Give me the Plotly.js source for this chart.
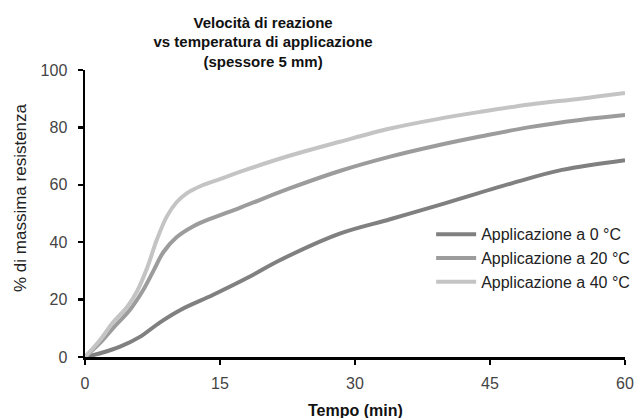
<!DOCTYPE html>
<html>
<head>
<meta charset="utf-8">
<script src="https://cdn.plot.ly/plotly-3.0.1.min.js"></script>
<style>html,body{margin:0;padding:0;background:#fff}#chart{width:637px;height:418px}</style>
</head>
<body>
<div id="chart"></div>
<script>
const time0 = [0, 1.7, 3.9, 6.1, 8.3, 10.6, 14.2, 18, 21.7, 28.3, 33.9, 39.4, 47.5, 53, 60];
const app0  = [0, 1.3, 3.6, 7, 12, 16.4, 21.6, 27.5, 33.8, 43, 48, 53, 60.6, 65.2, 68.6];
const time20 = [0, 1.7, 3.1, 5, 6.4, 7.6, 8.7, 10.2, 12, 14.2, 17.2, 22.8, 28.3, 33.9, 39, 43.9, 49.4, 55, 60];
const app20  = [0, 5, 10, 16.5, 23, 30, 36.5, 41.8, 45.5, 48.5, 52, 58.8, 64.8, 69.8, 73.6, 76.8, 80.1, 82.6, 84.3];
const time40 = [0, 1.7, 3.1, 4.7, 5.8, 6.9, 8, 9.1, 10.2, 11.3, 12.8, 15, 17.2, 22.8, 28.3, 33.9, 39, 43.9, 49.4, 55, 60];
const app40  = [0, 6, 12, 17.5, 23, 31, 41, 49, 54, 57, 59.5, 62, 64.5, 70.2, 75, 79.6, 82.8, 85.4, 88, 90, 92];
const seriesNames = ['Applicazione a 0 °C', 'Applicazione a 20 °C', 'Applicazione a 40 °C'];
const xTicks = [0, 15, 30, 45, 60];
const yTicks = [0, 20, 40, 60, 80, 100];

const colors = ['#808080', '#9c9c9c', '#c4c4c4'];
const xs = [time0, time20, time40];
const ys = [app0, app20, app40];
const traces = xs.map((x, i) => ({
  x: x, y: ys[i], name: seriesNames[i], type: 'scatter', mode: 'lines',
  line: {color: colors[i], width: 4, shape: 'spline', smoothing: 1}
}));

const layout = {
  width: 637, height: 418,
  margin: {l: 85, r: 12, t: 70, b: 61, autoexpand: false},
  paper_bgcolor: '#fff', plot_bgcolor: '#fff',
  font: {family: 'Liberation Sans, Arial, sans-serif', size: 16, color: '#333'},
  title: {
    text: '<b>Velocità di reazione<br>vs temperatura di applicazione<br>(spessore 5 mm)</b>',
    font: {size: 15, color: '#111'},
    xref: 'container', x: 0.413, xanchor: 'center',
    yref: 'container', y: 1 - 27.5 / 418, yanchor: 'middle'
  },
  showlegend: true,
  legend: {x: 0.641, y: 0.487, xanchor: 'left', yanchor: 'top', bgcolor: 'rgba(0,0,0,0)',
    font: {size: 16, color: '#222'}, itemwidth: 40, tracegroupgap: 0},
  xaxis: {
    range: [0, 60], tickvals: xTicks, ticktext: xTicks.map(String),
    showgrid: false, zeroline: false, showline: true, linecolor: '#000', linewidth: 2.5,
    ticks: 'outside', ticklen: 5, tickwidth: 2.5, tickcolor: '#000',
    ticklabelstandoff: 5,
    tickfont: {size: 16, color: '#444'}
  },
  yaxis: {
    range: [0, 100], tickvals: yTicks, ticktext: yTicks.map(String),
    showgrid: false, zeroline: false, showline: true, linecolor: '#000', linewidth: 2.5,
    ticks: 'outside', ticklen: 5, tickwidth: 2.5, tickcolor: '#000',
    ticklabelstandoff: 7,
    tickfont: {size: 16, color: '#444'}
  },
  annotations: [
    {text: '% di massima resistenza', xref: 'paper', yref: 'paper',
     x: (20 - 85) / 540, y: (357 - 198) / 287, xanchor: 'center', yanchor: 'middle',
     textangle: -90, showarrow: false, font: {size: 17, color: '#222'}},
    {text: '<b>Tempo (min)</b>', xref: 'paper', yref: 'paper',
     x: 0.5, y: (357 - 410) / 287, xanchor: 'center', yanchor: 'middle',
     showarrow: false, font: {size: 16, color: '#111'}}
  ]
};
Plotly.newPlot('chart', traces, layout, {displayModeBar: false, staticPlot: true});
</script>
</body>
</html>
